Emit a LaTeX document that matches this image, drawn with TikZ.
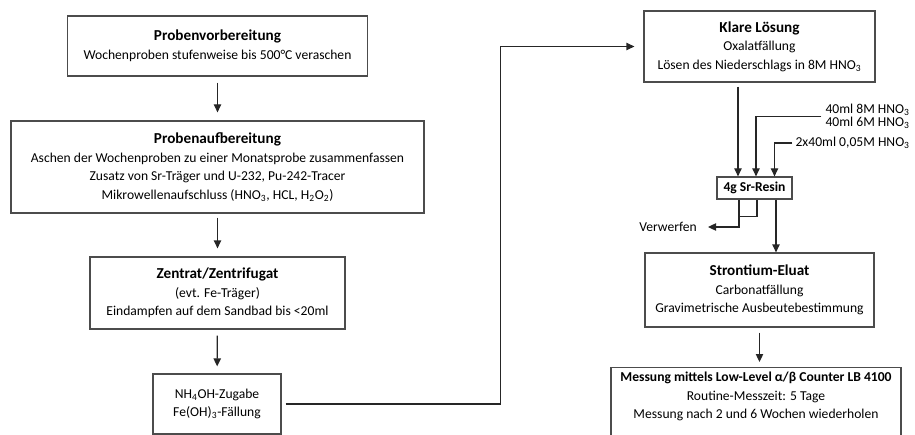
\documentclass[tikz,border=0pt]{standalone}
\usepackage{fontspec}
\setmainfont{Carlito}
\usetikzlibrary{arrows.meta,calc}

\tikzset{
  box/.style={draw=black!70, line width=0.9pt, fill=white, align=center,
    inner sep=0pt, font=\fontsize{10.2pt}{13.9pt}\selectfont},
  arr/.style={draw=black!85, line width=0.9pt, -{Triangle[length=6pt,width=5.5pt]}},
  ln/.style={draw=black!85, line width=0.9pt},
  lbl/.style={inner sep=0pt, align=right, font=\fontsize{10.2pt}{9.6pt}\selectfont},
}
\newcommand{\hno}{HNO\textsubscript{3}}
\newcommand{\boxhead}[1]{{\fontsize{11.4pt}{13.9pt}\selectfont\bfseries #1}}

\begin{document}
\begin{tikzpicture}[x=0.75pt, y=-0.75pt]
\useasboundingbox (0,0) rectangle (915,435);

% left column
\node[box, minimum width=300*0.75pt, minimum height=60*0.75pt] (vor) at (217.5,46)
  {\boxhead{Probenvorbereitung}\\Wochenproben stufenweise bis 500°C veraschen};
\node[box, minimum width=413*0.75pt, minimum height=92*0.75pt] (auf) at (217.5,167)
  {\boxhead{Probenaufbereitung}\\Aschen der Wochenproben zu einer Monatsprobe zusammenfassen\\
   Zusatz von Sr-Träger und U-232, Pu-242-Tracer\\
   Mikrowellenaufschluss (HNO\textsubscript{3}, HCL, H\textsubscript{2}O\textsubscript{2})};
\node[box, minimum width=255*0.75pt, minimum height=72*0.75pt] (zen) at (217.5,293)
  {\boxhead{Zentrat/Zentrifugat}\\(evt. Fe-Träger)\\Eindampfen auf dem Sandbad bis <20ml};
\node[box, minimum width=128*0.75pt, minimum height=60*0.75pt] (nh) at (217,404)
  {NH\textsubscript{4}OH-Zugabe\\Fe(OH)\textsubscript{3}-Fällung};

% right column
\node[box, minimum width=231*0.75pt, minimum height=71*0.75pt] (kl) at (759.5,46.5)
  {\boxhead{Klare Lösung}\\Oxalatfällung\\Lösen des Niederschlags in 8M \hno};
\node[box, minimum width=75*0.75pt, minimum height=22*0.75pt] (sr) at (754.5,188)
  {\textbf{4g Sr-Resin}};
\node[box, minimum width=229*0.75pt, minimum height=74*0.75pt] (el) at (759.5,290)
  {\boxhead{Strontium-Eluat}\\Carbonatfällung\\Gravimetrische Ausbeutebestimmung};
\node[box, minimum width=290*0.75pt, minimum height=80*0.75pt, anchor=north] (me) at (756,367)
  {\textbf{Messung mittels Low-Level α/β Counter LB 4100}\\Routine-Messzeit: 5 Tage\\
   Messung nach 2 und 6 Wochen wiederholen\\[4pt]};

% reagent labels
\node[lbl, anchor=east] (h1) at (910,116.5) {40ml 8M \hno\\40ml 6M \hno};
\node[lbl, anchor=east] (h2) at (910,143) {2x40ml 0,05M \hno};
\node[lbl, anchor=east, font=\fontsize{10.2pt}{12pt}\selectfont] (vw) at (697,227) {Verwerfen};

% column inlets and outlets of the resin
\coordinate (s1) at ($(sr.north)+(-16.5,0)$);
\coordinate (s2) at ($(sr.north)+(1.5,0)$);
\coordinate (s3) at ($(sr.north)+(20,0)$);
\coordinate (o1) at ($(sr.south)+(-15.5,0)$);
\coordinate (o2) at ($(sr.south)+(2.5,0)$);
\coordinate (o3) at ($(sr.south)+(21.5,0)$);
\coordinate (jn) at ($(o1)+(0,17)$);

% connectors, left column
\draw[arr, shorten <=6*0.75pt, shorten >=8*0.75pt] (vor) -- (auf);
\draw[arr, shorten <=4*0.75pt, shorten >=8*0.75pt] (auf) -- (zen);
\draw[arr, shorten <=6*0.75pt, shorten >=7*0.75pt] (zen) -- (nh);
\draw[arr, shorten <=4*0.75pt, shorten >=9*0.75pt] (nh.east) -- ++(219,0) |- (kl.west);

% connectors, right column
\draw[arr, shorten <=4*0.75pt] (kl.south -| s1) -- (s1);
\draw[arr, shorten <=4*0.75pt] (h1.west) -| (s2);
\draw[arr, shorten <=3*0.75pt] (h2.west) -| (s3);
\draw[ln] (o2) |- (jn);
\draw[arr, shorten >=11*0.75pt] (o1) |- (vw.east);
\draw[arr] (o3) -- (el.north -| o3);
\draw[arr, shorten <=5*0.75pt, shorten >=5*0.75pt] (el.south) -- (el.south |- me.north);
\end{tikzpicture}
\end{document}
